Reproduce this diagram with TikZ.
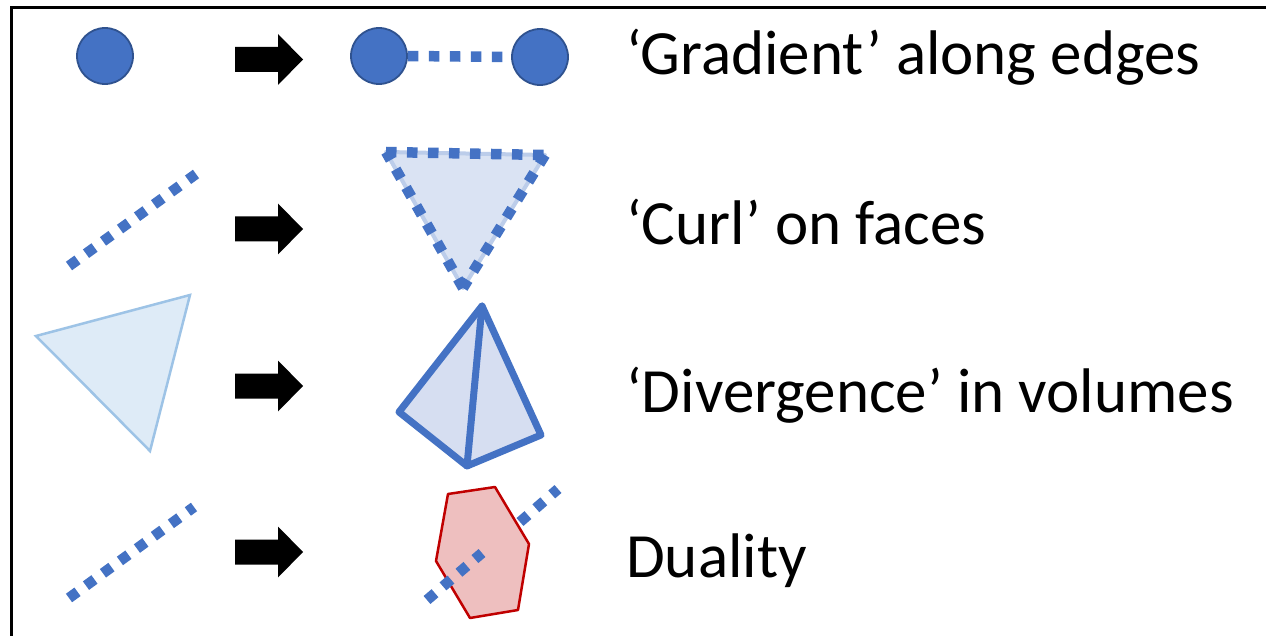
\documentclass[tikz,border=0pt]{standalone}
\usepackage{fontspec}
\setmainfont{Carlito}
\definecolor{vblue}{HTML}{4472C4}
\definecolor{vblueedge}{HTML}{2F528F}
\definecolor{facefill}{HTML}{DAE3F3}
\definecolor{paleface}{HTML}{DEEBF7}
\definecolor{paleedge}{HTML}{9DC3E6}
\definecolor{volfill}{HTML}{D6DEF1}
\definecolor{cellfill}{HTML}{EEBFBF}
\definecolor{celledge}{HTML}{C00000}
\tikzset{
  vertex/.style={circle, fill=vblue, draw=vblueedge, line width=1.8bp, minimum size=56bp, inner sep=0pt},
  sqdots/.style={draw=vblue, line width=10.5bp, dash pattern=on 10.5bp off 10.5bp, line cap=butt},
  lbl/.style={font=\fontsize{63bp}{75bp}\selectfont, inner sep=0pt, anchor=base west},
  fatarrow/.pic={\fill[black] (-34,-12.5) -- (9,-12.5) -- (9,-25.5) -- (34,0) -- (9,25.5) -- (9,12.5) -- (-34,12.5) -- cycle;}
}
\begin{document}
\begin{tikzpicture}[x=1bp, y=-1bp]
\useasboundingbox (0,0) rectangle (1266,636);
\fill[white] (0,0) rectangle (1266,636);
% frame, running off the right and bottom edges
\draw[line width=3bp] (11,640) -- (11,7.5) -- (1270,7.5);

% row 1: gradient
\node[vertex] (v0) at (105,56) {};
\pic at (269,59.5) {fatarrow};
\node[vertex] (va) at (379,56) {};
\node[vertex] (vb) at (540,57) {};
\draw[sqdots] (va.east) -- (vb.west);
\node[lbl] (t1) at (626,75) {‘Gradient’ along edges};

% row 2: curl
\coordinate (e0a) at (69,266);
\coordinate (e0b) at (196,174);
\draw[sqdots] (e0a) -- (e0b);
\pic at (269,229) {fatarrow};
\coordinate (fa) at (386,152);
\coordinate (fb) at (545,155);
\coordinate (fc) at (463,288);
\fill[facefill] (fa) -- (fb) -- (fc) -- cycle;
\draw[facefill!80!vblue, line width=4bp, line join=round] (fa) -- (fb) -- (fc) -- cycle;
\draw[sqdots] (fa) -- (fb);
\draw[sqdots] (fb) -- (fc);
\draw[sqdots] (fc) -- (fa);
\node[lbl] (t2) at (626,245) {‘Curl’ on faces};

% row 3: divergence
\coordinate (pa) at (36,336);
\coordinate (pb) at (190,295);
\coordinate (pc) at (150,451);
\filldraw[fill=paleface, draw=paleedge, line width=2.5bp] (pa) -- (pb) -- (pc) -- cycle;
\pic at (269,386) {fatarrow};
\coordinate (ta) at (482,306);
\coordinate (tl) at (399,412);
\coordinate (tb) at (467,466);
\coordinate (tr) at (541,435);
\filldraw[fill=volfill, draw=vblue, line width=7bp, line join=round] (ta) -- (tl) -- (tb) -- (tr) -- cycle;
\draw[vblue, line width=7bp, line cap=round] (ta) -- (tb);
\node[lbl] (t3) at (626,412) {‘Divergence’ in volumes};

% row 4: duality
\coordinate (d0a) at (69,598);
\coordinate (d0b) at (194,507);
\draw[sqdots] (d0a) -- (d0b);
\pic at (269,552) {fatarrow};
\filldraw[fill=cellfill, draw=celledge, line width=2.5bp, line join=round]
  (448,494) -- (495,487) -- (529,544) -- (518,610) -- (470,618) -- (436,561) -- cycle;
\coordinate (da) at (427,600);
\coordinate (dm) at (482,553);
\coordinate (dn) at (520,522);
\coordinate (db) at (558,489);
\draw[sqdots] (da) -- (dm);
\draw[sqdots] (dn) -- (db);
\node[lbl] (t4) at (626,577) {Duality};
\end{tikzpicture}
\end{document}
